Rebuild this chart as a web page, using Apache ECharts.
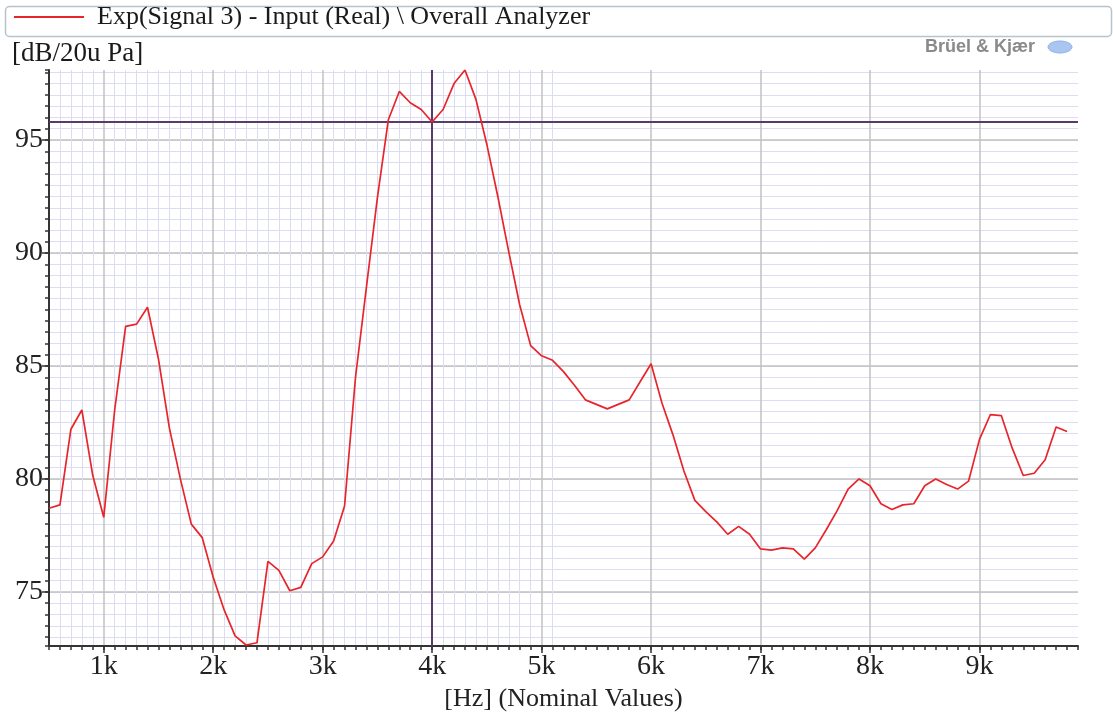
<!DOCTYPE html>
<html><head><meta charset="utf-8">
<script src="https://cdn.jsdelivr.net/npm/echarts@6/dist/echarts.min.js"></script>
<style>html,body{margin:0;padding:0;background:#fff}#c{width:1113px;height:717px}</style>
</head><body><div id="c"></div>
<script>
const seriesName = 'Exp(Signal 3) - Input (Real) \\ Overall Analyzer';
const yAxisTitle = '[dB/20u Pa]';
const xAxisTitle = '[Hz] (Nominal Values)';
const brandText = 'Brüel & Kjær';

const freqHz = [
  500, 600, 700, 800, 900, 1000, 1100, 1200, 1300, 1400,
  1500, 1600, 1700, 1800, 1900, 2000, 2100, 2200, 2300, 2400,
  2500, 2600, 2700, 2800, 2900, 3000, 3100, 3200, 3300, 3400,
  3500, 3600, 3700, 3800, 3900, 4000, 4100, 4200, 4300, 4400,
  4500, 4600, 4700, 4800, 4900, 5000, 5100, 5200, 5300, 5400,
  5500, 5600, 5700, 5800, 5900, 6000, 6100, 6200, 6300, 6400,
  6500, 6600, 6700, 6800, 6900, 7000, 7100, 7200, 7300, 7400,
  7500, 7600, 7700, 7800, 7900, 8000, 8100, 8200, 8300, 8400,
  8500, 8600, 8700, 8800, 8900, 9000, 9100, 9200, 9300, 9400,
  9500, 9600, 9700, 9800
];
const levelDb = [
  78.7, 78.85, 82.2, 83.05, 80.15, 78.3, 83.05, 86.75, 86.85, 87.6,
  85.3, 82.25, 80.0, 78.0, 77.4, 75.65, 74.2, 73.05, 72.65, 72.75,
  76.35, 75.95, 75.05, 75.2, 76.25, 76.55, 77.25, 78.8, 84.5, 88.5,
  92.45, 95.9, 97.15, 96.65, 96.35, 95.8, 96.35, 97.5, 98.1, 96.8,
  94.8, 92.5, 90.05, 87.7, 85.9, 85.45, 85.25, 84.75, 84.15, 83.5,
  83.3, 83.1, 83.3, 83.5, 84.3, 85.1, 83.35, 81.95, 80.35, 79.05,
  78.55, 78.1, 77.55, 77.9, 77.55, 76.9, 76.85, 76.95, 76.9, 76.45,
  76.95, 77.75, 78.6, 79.55, 80.0, 79.7, 78.9, 78.65, 78.85, 78.9,
  79.7, 80.0, 79.75, 79.55, 79.9, 81.75, 82.85, 82.8, 81.35, 80.15,
  80.25, 80.85, 82.3, 82.1
];
const xTickLabels = ['1k', '2k', '3k', '4k', '5k', '6k', '7k', '8k', '9k'];
const xRange = [500, 9900];
const yRange = [72.6, 98.1];
const cursorHz = 4000;
const cursorDb = 95.8;

const serif = '"Liberation Serif", "Times New Roman", serif';
const minorGridHz = freqHz.filter(f => f >= 600 && f <= 5100 && f % 1000 !== 0);

const chart = echarts.init(document.getElementById('c'), null, {renderer: 'canvas'});
chart.setOption({
  animation: false,
  backgroundColor: '#ffffff',
  grid: {left: 49, right: 35, top: 70, bottom: 68, containLabel: false},
  legend: {
    show: true, left: 14, top: 4, padding: 0, itemWidth: 70, itemHeight: 2,
    icon: 'rect', selectedMode: false, data: [seriesName],
    textStyle: {fontFamily: serif, fontSize: 26, color: '#1a1a1a', padding: [0, 0, 0, 8]}
  },
  xAxis: [
    {
      type: 'value', min: xRange[0], max: xRange[1], minInterval: 1000, maxInterval: 1000,
      position: 'bottom', z: 1,
      axisLine: {show: true, lineStyle: {color: '#333', width: 2}},
      axisTick: {show: true, length: 7, lineStyle: {color: '#333', width: 1.5}},
      axisLabel: {
        formatter: v => xTickLabels[v / 1000 - 1] || '',
        fontFamily: serif, fontSize: 28, color: '#222', margin: 7,
        showMinLabel: false, showMaxLabel: false
      },
      splitLine: {show: true, showMaxLine: false, lineStyle: {color: '#c2c2c2', width: 1.5}},
      name: xAxisTitle, nameLocation: 'middle', nameGap: 37,
      nameTextStyle: {fontFamily: serif, fontSize: 26, color: '#222'}
    },
    {
      type: 'value', min: xRange[0], max: xRange[1], minInterval: 100, maxInterval: 100,
      position: 'bottom', z: 0,
      axisLine: {show: false},
      axisTick: {show: true, length: 4, lineStyle: {color: '#333', width: 1.5}},
      axisLabel: {show: false},
      splitLine: {show: false}
    }
  ],
  yAxis: [
    {
      type: 'value', min: yRange[0], max: yRange[1], minInterval: 5, maxInterval: 5,
      position: 'left', z: 1,
      axisLine: {show: true, lineStyle: {color: '#333', width: 2}},
      axisTick: {show: true, length: 7, lineStyle: {color: '#333', width: 1.5}},
      axisLabel: {
        fontFamily: serif, fontSize: 28, color: '#222', margin: 6,
        showMinLabel: false, showMaxLabel: false
      },
      splitLine: {show: true, showMaxLine: false, lineStyle: {color: '#c2c2c2', width: 1.5}}
    },
    {
      type: 'value', min: yRange[0], max: yRange[1], minInterval: 0.5, maxInterval: 0.5,
      position: 'left', z: 0,
      axisLine: {show: false},
      axisTick: {show: true, length: 4, lineStyle: {color: '#333', width: 1.5}},
      axisLabel: {show: false},
      splitLine: {show: true, showMaxLine: false, lineStyle: {color: '#dcdcf2', width: 1}}
    }
  ],
  series: [
    {
      type: 'line', data: [], xAxisIndex: 0, yAxisIndex: 0, z: 1, silent: true,
      markLine: {
        z: 1, silent: true, symbol: ['none', 'none'], label: {show: false},
        lineStyle: {color: '#dcdcf2', width: 1, type: 'solid'},
        emphasis: {disabled: true},
        data: minorGridHz.map(f => ({xAxis: f}))
      }
    },
    {
      type: 'line', data: [], xAxisIndex: 0, yAxisIndex: 0, z: 2, silent: true,
      markLine: {
        z: 2, silent: true, symbol: ['none', 'none'], label: {show: false},
        lineStyle: {color: '#5a3a6c', width: 2, type: 'solid'},
        emphasis: {disabled: true},
        data: [{xAxis: cursorHz}, {yAxis: cursorDb}]
      }
    },
    {
      name: seriesName, type: 'line', xAxisIndex: 0, yAxisIndex: 0, z: 3,
      data: freqHz.map((f, i) => [f, levelDb[i]]),
      symbol: 'none', showSymbol: false,
      lineStyle: {color: '#e8252b', width: 1.7},
      itemStyle: {color: '#e8252b'}
    }
  ],
  graphic: [
    {type: 'rect', left: 3, top: 4, z: 0, silent: true,
     shape: {width: 1106, height: 30, r: 4},
     style: {fill: 'none', stroke: '#b8c4cc', lineWidth: 1.5}},
    {type: 'text', left: 12, top: 40, silent: true,
     style: {text: yAxisTitle, font: '27px ' + serif, fill: '#1a1a1a'}},
    {type: 'text', left: 925, top: 38, silent: true,
     style: {text: brandText, font: 'bold 18px "Liberation Sans", Arial, sans-serif', fill: '#8a8a8a'}},
    {type: 'ellipse', silent: true,
     shape: {cx: 1060, cy: 47, rx: 12, ry: 6},
     style: {fill: '#a9c5f0', stroke: '#8fb2ea', lineWidth: 1}}
  ]
});
</script>
</body></html>
